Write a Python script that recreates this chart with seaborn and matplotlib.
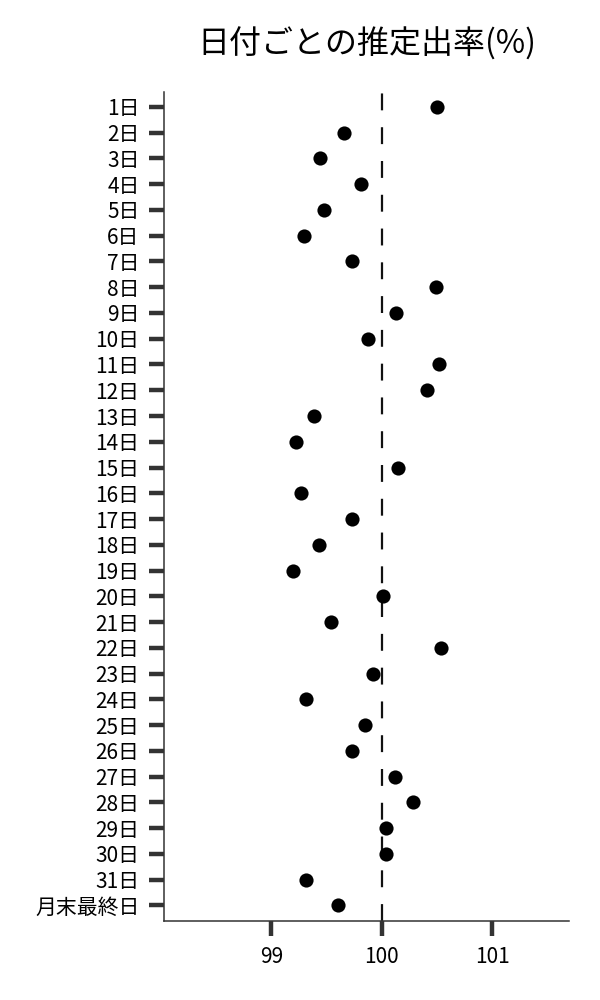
import matplotlib
matplotlib.use("Agg")
import matplotlib.pyplot as plt
import seaborn as sns
import pandas as pd

days = [f"{i}日" for i in range(1, 32)] + ["月末最終日"]
rates = [100.50, 99.66, 99.44, 99.81, 99.48, 99.30, 99.73, 100.49, 100.13, 99.88,
         100.52, 100.41, 99.39, 99.22, 100.15, 99.27, 99.73, 99.43, 99.20, 100.01,
         99.54, 100.54, 99.92, 99.31, 99.85, 99.73, 100.12, 100.28, 100.04, 100.04,
         99.31, 99.60]
xticks = [99, 100, 101]
title = "日付ごとの推定出率(%)"

df = pd.DataFrame({"day": days, "rate": rates})

sns.set_style("white")
plt.rcParams['font.family'] = ['Noto Sans CJK JP', 'DejaVu Sans']
plt.rcParams['text.color'] = 'black'

fig = plt.figure(figsize=(6, 10), dpi=100)
ax = fig.add_axes([0.2738, 0.079, 0.675, 0.8287])

sns.stripplot(data=df, x="rate", y="day", order=days, jitter=False,
              color="black", size=10.2, ax=ax)
ax.axvline(100, color="#111111", lw=1.6, linestyle=(0, (7.6, 7.6)), zorder=0)

ax.set_xlim(98.03, 101.7)
ax.set_ylim(31.61, -0.57)
ax.set_xticks(xticks)
ax.set_xticklabels([str(v) for v in xticks])
ax.set_xlabel("")
ax.set_ylabel("")
ax.set_title(title, fontsize=23, pad=28, color="black")

for side in ["top", "right"]:
    ax.spines[side].set_visible(False)
for side in ["left", "bottom"]:
    ax.spines[side].set_color("#333333")
    ax.spines[side].set_linewidth(1.1)
ax.tick_params(axis="both", which="major", length=10.8, width=3.2, color="#333333",
               labelsize=15, labelcolor="black", direction="out", pad=7,
               left=True, bottom=True)

fig.savefig("out.png", dpi=100)
